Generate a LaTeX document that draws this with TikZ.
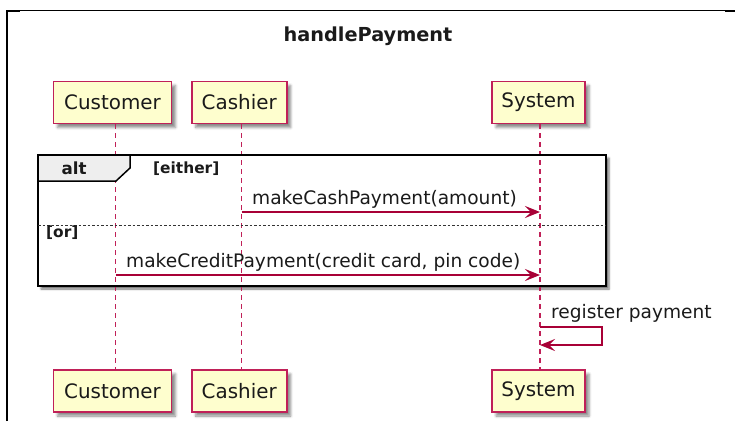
\documentclass[tikz,border=0pt]{standalone}
\usepackage{fontspec}
\setmainfont{DejaVu Sans}
\usetikzlibrary{shadows.blur,arrows.meta}
\definecolor{umlred}{HTML}{A80036}
\definecolor{lifered}{HTML}{C02058}
\definecolor{umlfill}{HTML}{FEFECE}
\definecolor{tabfill}{HTML}{EEEEEE}
\definecolor{ink}{HTML}{1A1A1A}

\begin{document}
\begin{tikzpicture}[x=1pt,y=-1pt,
  boxshadow/.style={blur shadow={shadow xshift=4pt, shadow yshift=-4pt,
      shadow blur radius=2.5pt, shadow opacity=45}},
  actor/.style={draw=lifered, fill=umlfill, line width=1.6pt, boxshadow,
      minimum height=42pt, inner sep=0pt, text=ink,
      font=\fontsize{19.9pt}{21pt}\selectfont},
  lifeline/.style={draw=lifered, line width=1.4pt, dash pattern=on 5pt off 4pt},
  msg/.style={draw=umlred, line width=1.3pt,
      -{Stealth[length=15pt, width=12pt, inset=6pt]}},
  msglabel/.style={anchor=base west, inner sep=0pt, text=ink,
      font=\fontsize{18.6pt}{20pt}\selectfont},
  grouplabel/.style={inner sep=0pt, text=ink,
      font=\bfseries\fontsize{15.4pt}{17pt}\selectfont},
  separator/.style={draw=black!80, line width=1pt, dash pattern=on 2.5pt off 2pt}]

\useasboundingbox (0,0) rectangle (735,421);

% outer frame edges
\draw[line width=2pt] (7,421) -- (7,10.5) -- (20,10.5);
\draw[line width=1pt] (20,10.5) -- (725,10.5);
\draw[line width=2.4pt] (725,10.7) -- (735,10.7);

% title
\node[anchor=base, inner sep=0pt, text=ink, font=\bfseries\fontsize{19.3pt}{21pt}\selectfont]
  (title) at (368,41) {handlePayment};

% alt fragment body (white, with shadow)
\draw[line width=2.6pt, fill=white, blur shadow={shadow xshift=3pt, shadow yshift=-3pt,
      shadow blur radius=2pt, shadow opacity=55}]
  (38,155) rectangle (606,286);

% participants (head and foot)
\node[actor, minimum width=118pt] (custT) at (112.5,102.5) {Customer};
\node[actor, minimum width=95pt]  (cashT) at (239.2,102.5) {Cashier};
\node[actor, minimum width=93pt]  (sysT)  at (538.5,102.5) {System};
\node[actor, minimum width=118pt] (custB) at (112.5,391)   {Customer};
\node[actor, minimum width=95pt]  (cashB) at (239.2,391)   {Cashier};
\node[actor, minimum width=93pt]  (sysB)  at (538.5,391)   {System};

% lifelines
\draw[lifeline] ([xshift=3.2pt]custT.south) -- ([xshift=3.2pt]custB.north);
\draw[lifeline] ([xshift=2.5pt]cashT.south) -- ([xshift=2.5pt]cashB.north);
\draw[lifeline] ([xshift=1.5pt]sysT.south)  -- ([xshift=1.5pt]sysB.north);

% alt tab and frame outline
\draw[line width=1.5pt, fill=tabfill]
  (38,155) -- (130,155) -- (130,168) -- (116,181) -- (38,181) -- cycle;
\draw[line width=2.6pt] (38,155) rectangle (606,286);
\node[inner sep=0pt, text=ink, font=\bfseries\fontsize{16.7pt}{18pt}\selectfont,
      anchor=base] (altlbl) at (74,174) {alt};
\node[grouplabel, anchor=base west] (either) at (153,173) {[either]};
\draw[separator] (38,225) -- (606,225);
\node[grouplabel, anchor=base west] (orlbl) at (46,237.5) {[or]};

% message end points on the lifelines
\coordinate (cashA) at (241.7,212);
\coordinate (sysA)  at (540,212);
\coordinate (custB1) at (115.7,275);
\coordinate (sysB1)  at (540,275);
\coordinate (sysC1)  at (540,327);
\coordinate (sysC2)  at (540,345);

% messages
\draw[msg] (cashA) -- (sysA);
\node[msglabel] (m1) at (252,204) {makeCashPayment(amount)};
\draw[msg] (custB1) -- (sysB1);
\node[msglabel] (m2) at (126,267) {makeCreditPayment(credit card, pin code)};
\draw[msg] (sysC1) -- ++(62,0) -- ++(0,18) -- (sysC2);
\node[msglabel] (m3) at (551,318) {register payment};
\end{tikzpicture}
\end{document}
